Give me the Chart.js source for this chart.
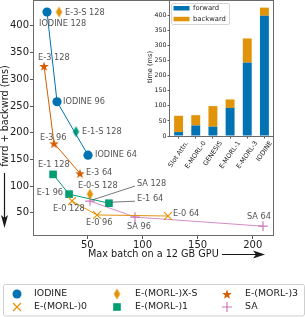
<!DOCTYPE html>
<html><head><meta charset="utf-8">
<script src="https://cdn.jsdelivr.net/npm/chart.js@4/dist/chart.umd.min.js"></script>
<style>
html,body{margin:0;padding:0;background:#fff;}
#wrap{position:relative;width:305px;height:317px;overflow:hidden;}
#main{position:absolute;left:0;top:0;}
#inset{position:absolute;left:140px;top:0;}
</style></head><body>
<div id="wrap"><canvas id="main" width="305" height="317"></canvas><canvas id="inset" width="140" height="175"></canvas></div>
<script>
// ---------- data ----------
const iodineX = [13.4, 22.5, 50.6];
const iodineY = [426, 258, 158];
const iodineLbl = ['IODINE 128', 'IODINE 96', 'IODINE 64'];
const xsX = [24.3, 39.7, 52.4];
const xsY = [426, 202, 85];
const xsLbl = ['E-3-S 128', 'E-1-S 128', 'E-0-S 128'];
const e3X = [10.7, 19.8, 43.3];
const e3Y = [325, 180, 124];
const e3Lbl = ['E-3 128', 'E-3 96', 'E-3 64'];
const e0X = [36.1, 58.8, 123.1];
const e0Y = [72, 46, 44];
const e0Lbl = ['E-0 128', 'E-0 96', 'E-0 64'];
const e1X = [18.9, 33.4, 69.6];
const e1Y = [122, 85, 68];
const e1Lbl = ['E-1 128', 'E-1 96', 'E-1 64'];
const saX = [52.4, 93.2, 209.3];
const saY = [72, 42, 25];
const saLbl = ['SA 128', 'SA 96', 'SA 64'];
const seriesNames = ['IODINE', 'E-(MORL-)X-S', 'E-(MORL-)3', 'E-(MORL-)0', 'E-(MORL-)1', 'SA'];
const xTicks = [50, 100, 150, 200];
const yTicks = [50, 100, 150, 200, 250, 300, 350, 400];
const xTitle = 'Max batch on a 12 GB GPU';
const yTitle = 'fwrd + backwrd (ms)';

const barCats = ['Slot Attn.', 'E-MORL-0', 'GENESIS', 'E-MORL-1', 'E-MORL-3', 'IODINE'];
const fwdVals = [13, 35, 31, 93, 243, 398];
const bwdVals = [54, 34, 68, 28, 80, 27];
const insetTicks = [0, 50, 100, 150, 200, 250, 300, 350, 400];
const insetTitle = 'time (ms)';
const insetNames = ['forward', 'backward'];

// ---------- style ----------
const BLUE = '#0173B2', ORANGE = '#E1930A', VERM = '#D55E00', GREEN = '#029E73', PINK = '#CC78BC';
const FONT = 'DejaVu Sans';
const xsColors = [ORANGE, GREEN, ORANGE];
// label offsets [dx, dy, align, leader]
const off = {
  iodine: [[-8, 12, 'left'], [6, 0, 'left'], [7, 0, 'left']],
  xs: [[6, 1, 'left'], [6, 0, 'left'], [-12, -8, 'left']],
  e3: [[-6, -8, 'left'], [-14, -6, 'left'], [6, 0, 'left']],
  e0: [[-19, 8, 'left'], [-11, 8, 'left'], [5, -2, 'left']],
  e1: [[-15, -9, 'left'], [-6, -1, 'right'], [28, -4, 'left', true]],
  sa: [[47, -17, 'left', true], [-8, 10, 'left'], [-16, -9, 'left']]
};

function zip(a, b) { return a.map((v, i) => ({x: v, y: b[i]})); }
function makeStar(color, R) {
  const s = Math.ceil(R * 2 + 2), c = document.createElement('canvas');
  c.width = s; c.height = s;
  const g = c.getContext('2d'); g.fillStyle = color; g.beginPath();
  for (let i = 0; i < 10; i++) {
    const r = i % 2 ? R * 0.42 : R, a = -Math.PI / 2 + i * Math.PI / 5;
    g.lineTo(s / 2 + r * Math.cos(a), s / 2 + 0.6 + r * Math.sin(a));
  }
  g.closePath(); g.fill(); return c;
}
function makeDiamond(color, hw, hh) {
  const w = Math.ceil(hw * 2 + 2), h = Math.ceil(hh * 2 + 2), c = document.createElement('canvas');
  c.width = w; c.height = h;
  const g = c.getContext('2d'); g.fillStyle = color; g.beginPath();
  g.moveTo(w / 2, h / 2 - hh); g.lineTo(w / 2 + hw, h / 2); g.lineTo(w / 2, h / 2 + hh); g.lineTo(w / 2 - hw, h / 2);
  g.closePath(); g.fill(); return c;
}
const starImg = makeStar(VERM, 5);
const diaImgs = xsColors.map(c => makeDiamond(c, 3.2, 5.6));

const labelsBySet = [iodineLbl, xsLbl, e3Lbl, e0Lbl, e1Lbl, saLbl];
const offBySet = [off.iodine, off.xs, off.e3, off.e0, off.e1, off.sa];

const mainPlugin = {
  id: 'mainDeco',
  beforeDatasetsDraw(chart) {
    const {ctx, chartArea: a} = chart;
    ctx.save();
    ctx.strokeStyle = '#6a6a6a'; ctx.lineWidth = 1;
    ctx.strokeRect(Math.round(a.left) + 0.5, Math.round(a.top) - 0.5, Math.round(a.right - a.left), Math.round(a.bottom - a.top));
    ctx.restore();
  },
  afterDatasetsDraw(chart) {
    const {ctx} = chart;
    const xs = chart.scales.x, ys = chart.scales.y;
    ctx.save();
    ctx.font = '8.2px "' + FONT + '"';
    ctx.fillStyle = '#555'; ctx.textBaseline = 'middle';
    chart.data.datasets.forEach((ds, di) => {
      ds.data.forEach((p, i) => {
        const px = xs.getPixelForValue(p.x), py = ys.getPixelForValue(p.y);
        const o = offBySet[di][i];
        const lx = px + o[0], ly = py + o[1];
        ctx.textAlign = o[2];
        ctx.fillText(labelsBySet[di][i], lx, ly);
        if (o[3]) {
          ctx.strokeStyle = '#555'; ctx.lineWidth = 0.8;
          ctx.beginPath(); ctx.moveTo(lx - 2, ly + 2); ctx.lineTo(px + 2, py - 1); ctx.stroke();
        }
      });
    });
    ctx.restore();
  },
  afterDraw(chart) {
    const {ctx} = chart;
    ctx.save();
    // axis titles
    ctx.fillStyle = '#1a1a1a'; ctx.strokeStyle = '#1a1a1a';
    ctx.font = '9.7px "' + FONT + '"';
    ctx.textBaseline = 'middle'; ctx.textAlign = 'left';
    ctx.fillText(xTitle, 88, 254);
    ctx.lineWidth = 1.2;
    ctx.beginPath(); ctx.moveTo(222, 254.5); ctx.lineTo(257, 254.5); ctx.stroke();
    ctx.beginPath(); ctx.moveTo(265, 254.5); ctx.lineTo(253, 250.5); ctx.lineTo(256, 254.5); ctx.lineTo(253, 258.5); ctx.closePath(); ctx.fill();
    ctx.save();
    ctx.translate(5.5, 116); ctx.rotate(-Math.PI / 2); ctx.textAlign = 'center';
    ctx.fillText(yTitle, 0, 0);
    ctx.restore();
    ctx.beginPath(); ctx.moveTo(4.5, 173); ctx.lineTo(4.5, 219); ctx.stroke();
    ctx.beginPath(); ctx.moveTo(4.5, 228); ctx.lineTo(1, 215); ctx.lineTo(4.5, 218); ctx.lineTo(8, 215); ctx.closePath(); ctx.fill();
    // legend
    ctx.strokeStyle = '#cfcfcf'; ctx.lineWidth = 1;
    ctx.fillStyle = '#fff';
    ctx.beginPath(); ctx.roundRect(3.5, 284.5, 301, 31.5, 2); ctx.fill(); ctx.stroke();
    const cols = [17, 117, 227], tcols = [34, 135, 245], rows = [294, 307];
    const order = [0, 1, 2, 3, 4, 5];
    ctx.font = '9.4px "' + FONT + '"'; ctx.textAlign = 'left'; ctx.textBaseline = 'middle';
    order.forEach((di, k) => {
      const x = cols[k % 3], y = rows[Math.floor(k / 3)];
      drawLegendMarker(ctx, di, x, y);
      ctx.fillStyle = '#222';
      ctx.fillText(seriesNames[di], tcols[k % 3], y);
    });
    ctx.restore();
  }
};
function drawLegendMarker(ctx, di, x, y) {
  ctx.save();
  if (di === 0) { ctx.fillStyle = BLUE; ctx.beginPath(); ctx.arc(x, y, 4.5, 0, Math.PI * 2); ctx.fill(); }
  else if (di === 1) { const d = makeDiamond(ORANGE, 3.2, 5.6); ctx.drawImage(d, x - d.width / 2, y - d.height / 2); }
  else if (di === 2) { ctx.drawImage(starImg, x - starImg.width / 2, y - starImg.height / 2); }
  else if (di === 3) { ctx.strokeStyle = ORANGE; ctx.lineWidth = 1.2; ctx.beginPath(); ctx.moveTo(x - 4, y - 4); ctx.lineTo(x + 4, y + 4); ctx.moveTo(x + 4, y - 4); ctx.lineTo(x - 4, y + 4); ctx.stroke(); }
  else if (di === 4) { ctx.fillStyle = GREEN; ctx.fillRect(x - 3.8, y - 3.8, 7.6, 7.6); }
  else { ctx.strokeStyle = PINK; ctx.lineWidth = 1.2; ctx.beginPath(); ctx.moveTo(x - 5, y); ctx.lineTo(x + 5, y); ctx.moveTo(x, y - 5); ctx.lineTo(x, y + 5); ctx.stroke(); }
  ctx.restore();
}

const lineDs = (label, x, y, color, style, radius, extra) => Object.assign({
  label, data: zip(x, y), showLine: true, borderColor: color, backgroundColor: color,
  borderWidth: 1, pointStyle: style, pointRadius: radius, pointBackgroundColor: color,
  pointBorderColor: color, pointBorderWidth: 0
}, extra || {});

new Chart(document.getElementById('main'), {
  type: 'scatter',
  data: {datasets: [
    lineDs(seriesNames[0], iodineX, iodineY, BLUE, 'circle', 4.6),
    {label: seriesNames[1], data: zip(xsX, xsY), showLine: false, pointStyle: diaImgs, pointRadius: 6, backgroundColor: xsColors, borderColor: xsColors},
    lineDs(seriesNames[2], e3X, e3Y, VERM, starImg, 6),
    lineDs(seriesNames[3], e0X, e0Y, ORANGE, 'crossRot', 5.5, {pointBorderWidth: 1.2}),
    lineDs(seriesNames[4], e1X, e1Y, GREEN, 'rect', 5.4),
    lineDs(seriesNames[5], saX, saY, PINK, 'cross', 4.8, {pointBorderWidth: 1.2, borderColor: 'rgba(204,120,188,0.85)'})
  ]},
  options: {
    responsive: false, animation: false,
    layout: {autoPadding: false, padding: {top: 1, right: 32, left: 0, bottom: 0}},
    plugins: {legend: {display: false}, tooltip: {enabled: false}},
    scales: {
      x: {type: 'linear', min: 0.7, max: 218.4,
        afterBuildTicks(s) { s.ticks = xTicks.map(v => ({value: v})); },
        afterFit(s) { s.height = 81; s.paddingLeft = 0; s.paddingRight = 0; },
        grid: {drawOnChartArea: false, tickLength: 3, color: '#555'}, border: {display: false},
        ticks: {font: {family: FONT, size: 10}, color: '#222', padding: 0, maxRotation: 0}},
      y: {type: 'linear', min: 6.6, max: 446.6,
        afterBuildTicks(s) { s.ticks = yTicks.map(v => ({value: v})); },
        afterFit(s) { s.width = 33; s.paddingTop = 0; s.paddingBottom = 0; },
        grid: {drawOnChartArea: false, tickLength: 3, color: '#555'}, border: {display: false},
        ticks: {font: {family: FONT, size: 10}, color: '#222', padding: 1}}
    }
  },
  plugins: [mainPlugin]
});

// ---------- inset ----------
const insetPlugin = {
  id: 'insetDeco',
  beforeDatasetsDraw(chart) {
    const {ctx, chartArea: a} = chart;
    ctx.save();
    ctx.fillStyle = '#fff';
    ctx.fillRect(a.left, a.top, a.right - a.left, a.bottom - a.top);
    ctx.restore();
  },
  afterDraw(chart) {
    const {ctx, chartArea: a} = chart;
    const xs = chart.scales.x;
    ctx.save();
    ctx.strokeStyle = '#6a6a6a'; ctx.lineWidth = 1;
    ctx.strokeRect(Math.round(a.left) - 0.5, Math.round(a.top) - 0.5, Math.round(a.right - a.left) + 1, Math.round(a.bottom - a.top) + 1);
    // x labels, rotated, bbox centred on tick
    ctx.font = '6.5px "' + FONT + '"'; ctx.fillStyle = '#222';
    ctx.textAlign = 'right'; ctx.textBaseline = 'middle';
    const ang = 55 * Math.PI / 180;
    barCats.forEach((t, i) => {
      const L = ctx.measureText(t).width;
      const x = xs.getPixelForValue(i) + L * Math.cos(ang) / 2;
      const y = a.bottom + 6;
      ctx.save(); ctx.translate(x, y); ctx.rotate(-ang); ctx.fillText(t, 0, 0); ctx.restore();
    });
    // y title
    ctx.save(); ctx.translate(10, 67); ctx.rotate(-Math.PI / 2); ctx.textAlign = 'center';
    ctx.font = '6.6px "' + FONT + '"'; ctx.fillText(insetTitle, 0, 0); ctx.restore();
    // legend
    ctx.fillStyle = 'rgba(255,255,255,0.85)'; ctx.strokeStyle = '#d6d6d6';
    ctx.beginPath(); ctx.roundRect(31.5, 3.5, 58, 21, 1.5); ctx.fill(); ctx.stroke();
    ctx.fillStyle = BLUE; ctx.fillRect(33.5, 6, 16, 4.5);
    ctx.fillStyle = ORANGE; ctx.fillRect(33.5, 16.8, 16, 4.5);
    ctx.fillStyle = '#222'; ctx.textAlign = 'left'; ctx.font = '6.8px "' + FONT + '"';
    ctx.fillText(insetNames[0], 53, 8.3); ctx.fillText(insetNames[1], 53, 19);
    ctx.restore();
  }
};
new Chart(document.getElementById('inset'), {
  type: 'bar',
  data: {labels: barCats, datasets: [
    {label: insetNames[0], data: fwdVals, backgroundColor: BLUE, borderWidth: 0},
    {label: insetNames[1], data: bwdVals, backgroundColor: ORANGE, borderWidth: 0}
  ]},
  options: {
    responsive: false, animation: false,
    layout: {autoPadding: false, padding: {top: 1, right: 7, left: 0, bottom: 0}},
    plugins: {legend: {display: false}, tooltip: {enabled: false}},
    datasets: {bar: {categoryPercentage: 1, barPercentage: 0.52}},
    scales: {
      x: {stacked: true,
        afterFit(s) { s.height = 39; s.paddingLeft = 0; s.paddingRight = 0; },
        grid: {drawOnChartArea: false, tickLength: 2.5, color: '#555', offset: false}, border: {display: false},
        ticks: {display: false}},
      y: {stacked: true, min: 0, max: 447,
        afterBuildTicks(s) { s.ticks = insetTicks.map(v => ({value: v})); },
        afterFit(s) { s.width = 30; s.paddingTop = 0; s.paddingBottom = 0; },
        grid: {drawOnChartArea: false, tickLength: 2.5, color: '#555'}, border: {display: false},
        ticks: {font: {family: FONT, size: 6.3}, color: '#222', padding: 1}}
    }
  },
  plugins: [insetPlugin]
});
</script>
</body></html>
